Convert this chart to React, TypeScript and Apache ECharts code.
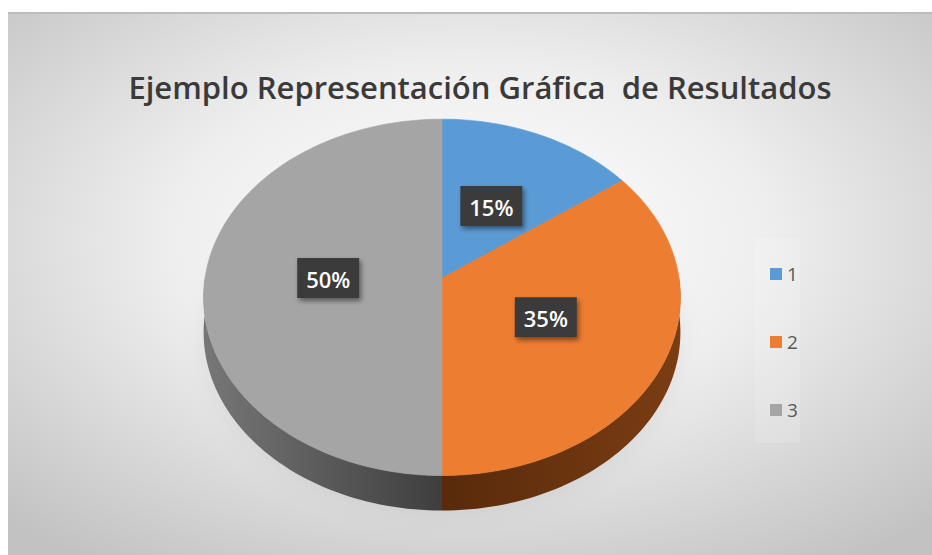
import React, { useEffect, useRef } from 'react';
import * as echarts from 'echarts';

// ---- data ----
const categories = ['1', '2', '3'];
const values = [15, 35, 50];
const labelTexts = ['15%', '35%', '50%'];
const chartTitle = 'Ejemplo Representación Gráfica  de Resultados';
const topColors = ['#5B9BD5', '#ED7D31', '#A5A5A5'];
const sideColors = [
  ['#2e5f8a', '#3d78ad'],
  ['#582a0b', '#7b3d13'],
  ['#777777', '#3e3e3e'],
];

const total = values.reduce((a, b) => a + b, 0);
const starts: number[] = [];
values.reduce((acc, v) => {
  starts.push(acc);
  return acc + v;
}, 0);

export default function App() {
  const ref = useRef<HTMLDivElement>(null);

  useEffect(() => {
    if (!ref.current) return;
    const chart = echarts.init(ref.current, undefined, { renderer: 'svg' });

    // perspective ellipse geometry (container coords)
    const CX = 434;
    const RX = 237;
    const A = 266;
    const B = -147.2;
    const C = 0.1086;
    const DEPTH = 35;
    const LABEL_R = 0.48;

    const proj = (r: number, th: number, dz: number) => {
      const u = r * Math.sin(th);
      const v = r * Math.cos(th);
      const den = 1 + C * v;
      return [CX + (RX * u) / den, (A + B * v) / den + dz];
    };

    const arc = (t0: number, t1: number, dz: number) => {
      const pts: number[][] = [];
      const n = Math.max(2, Math.ceil((t1 - t0) / (Math.PI / 120)));
      for (let k = 0; k <= n; k++) {
        pts.push(proj(1, t0 + ((t1 - t0) * k) / n, dz));
      }
      return pts;
    };

    const renderItem = (params: any, api: any) => {
      const i = params.seriesIndex;
      const s = api.value(0);
      const e = api.value(1);
      const a0 = (s / total) * Math.PI * 2;
      const a1 = (e / total) * Math.PI * 2;
      const color = api.visual('color');
      const children: any[] = [];

      const f0 = Math.max(a0, Math.PI / 2);
      const f1 = Math.min(a1, (Math.PI * 3) / 2);
      if (f1 > f0) {
        const topArc = arc(f0, f1, 0);
        const botArc = arc(f0, f1, DEPTH).reverse();
        children.push({
          type: 'polygon',
          shape: { points: topArc.concat(botArc) },
          style: {
            fill: new echarts.graphic.LinearGradient(0, 0, 1, 0, [
              { offset: 0, color: sideColors[i][0] },
              { offset: 1, color: sideColors[i][1] },
            ]),
          },
          z2: 1,
        });
      }

      const topPts = [proj(0, 0, 0)].concat(arc(a0, a1, 0));
      children.push({
        type: 'polygon',
        shape: { points: topPts },
        style: { fill: color, stroke: color, lineWidth: 0.6 },
        z2: 10,
      });

      const mid = (a0 + a1) / 2;
      const [lx, ly] = proj(LABEL_R, mid, 0);
      children.push({
        type: 'rect',
        shape: { x: lx - 31, y: ly - 20, width: 62, height: 40 },
        style: {
          fill: '#3b3b3b',
          shadowBlur: 5,
          shadowColor: 'rgba(0,0,0,0.45)',
          shadowOffsetX: 2,
          shadowOffsetY: 3,
        },
        z2: 20,
      });
      children.push({
        type: 'text',
        x: lx,
        y: ly + 1,
        style: {
          text: labelTexts[i],
          fill: '#ffffff',
          font: '600 22px "Open Sans"',
          align: 'center',
          verticalAlign: 'middle',
        },
        z2: 30,
      });

      return { type: 'group', children };
    };

    const series = categories.map((name, i) => ({
      type: 'custom',
      name,
      coordinateSystem: 'none',
      renderItem,
      data: [[starts[i], starts[i] + values[i]]],
      itemStyle: { color: topColors[i] },
      silent: true,
    }));

    chart.setOption({
      animation: false,
      color: topColors,
      backgroundColor: {
        type: 'radial',
        x: 0.5,
        y: 0.42,
        r: 0.72,
        colorStops: [
          { offset: 0, color: '#ffffff' },
          { offset: 0.45, color: '#eeeeee' },
          { offset: 1, color: '#c2c2c2' },
        ],
      },
      graphic: [
        {
          type: 'rect',
          shape: { x: 0, y: 0, width: 924, height: 2 },
          style: { fill: '#bcbcbc' },
          silent: true,
        },
        {
          type: 'rect',
          shape: { x: 747, y: 226, width: 45, height: 205 },
          style: { fill: 'rgba(255,255,255,0.14)' },
          silent: true,
        },
        {
          type: 'ellipse',
          shape: { cx: 434, cy: 318, rx: 232, ry: 170 },
          style: {
            fill: 'rgba(0,0,0,0.25)',
            shadowBlur: 28,
            shadowColor: 'rgba(0,0,0,0.35)',
            shadowOffsetY: 8,
          },
          silent: true,
          z: 0,
        },
        {
          type: 'text',
          x: 472,
          y: 75,
          style: {
            text: chartTitle,
            fill: '#3a3a3a',
            font: '600 31px "Open Sans"',
            align: 'center',
            verticalAlign: 'middle',
          },
          silent: true,
        },
      ],
      legend: {
        data: categories,
        orient: 'vertical',
        left: 757,
        top: 247,
        icon: 'rect',
        itemWidth: 12,
        itemHeight: 12,
        itemGap: 48,
        selectedMode: false,
        textStyle: {
          color: '#595959',
          fontSize: 19,
          fontFamily: 'Open Sans',
          lineHeight: 20,
        },
      },
      series,
    });

    return () => chart.dispose();
  }, []);

  return (
    <div
      ref={ref}
      style={{ position: 'absolute', left: 8, top: 12, width: 924, height: 543 }}
    />
  );
}
